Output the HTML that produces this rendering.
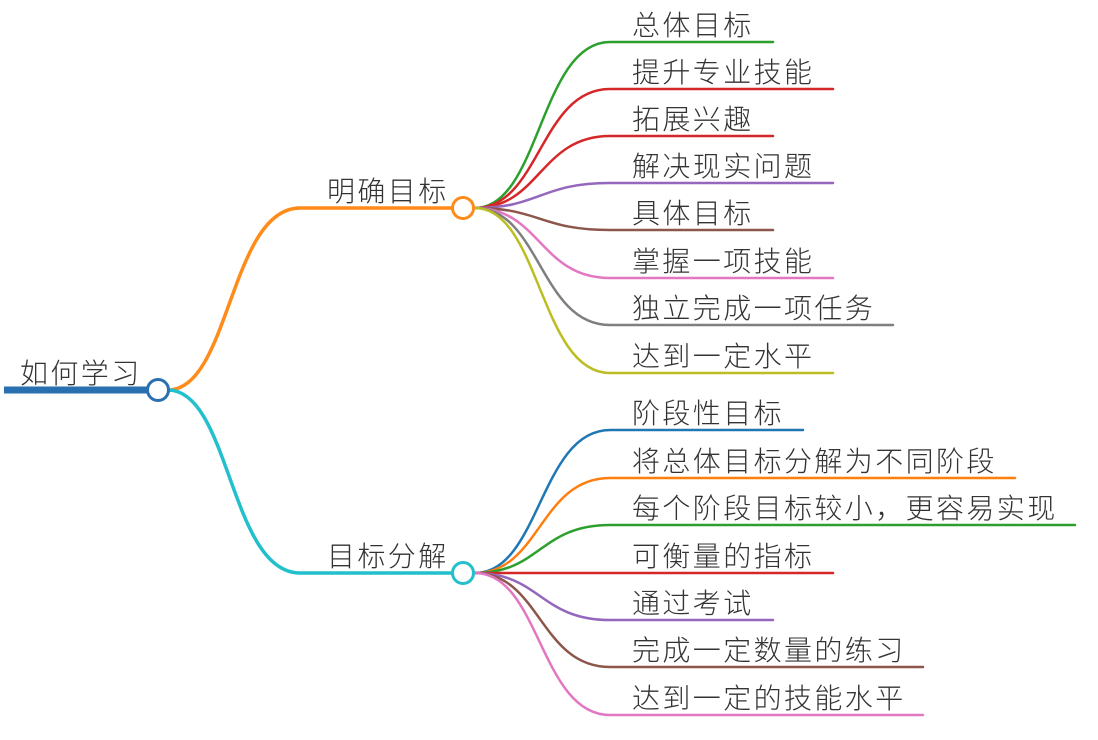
<!DOCTYPE html>
<html><head><meta charset="utf-8"><style>
html,body{margin:0;padding:0;background:#fff;}
svg text{font-family:"Liberation Sans","Noto Sans CJK SC",sans-serif;font-size:28px;font-weight:300;fill:#333;letter-spacing:2.4px;}
</style></head><body>
<svg width="1098" height="735" viewBox="0 0 1098 735" xmlns="http://www.w3.org/2000/svg">
<g fill="none" stroke-linecap="round">
<path d="M168 390 C230 390 230 208 300 208 L452 208" stroke="#ff8c1a" stroke-width="3.5"/>
<path d="M168 390 C230 390 230 573 300 573 L452 573" stroke="#22bfcc" stroke-width="3.5"/>
<line x1="4" y1="390" x2="148" y2="390" stroke="#2a6fb0" stroke-width="7" stroke-linecap="butt"/>
<g stroke-width="2.5">
<path d="M475 208 C540 208 540 42 610 42 L773 42" stroke="#2ca02c"/>
<path d="M475 208 C540 208 540 89 610 89 L833 89" stroke="#d62728"/>
<path d="M475 208 C540 208 540 136 610 136 L773 136" stroke="#d62728"/>
<path d="M475 208 C540 208 540 183 610 183 L833 183" stroke="#9467bd"/>
<path d="M475 208 C540 208 540 230 610 230 L773 230" stroke="#8c564b"/>
<path d="M475 208 C540 208 540 278 610 278 L833 278" stroke="#e377c2"/>
<path d="M475 208 C540 208 540 325 610 325 L893 325" stroke="#7f7f7f"/>
<path d="M475 208 C540 208 540 373 610 373 L833 373" stroke="#bcbd22"/>
<path d="M475 573 C540 573 540 430 610 430 L803 430" stroke="#1f77b4"/>
<path d="M475 573 C540 573 540 478 610 478 L1015 478" stroke="#ff7f0e"/>
<path d="M475 573 C540 573 540 525 610 525 L1075 525" stroke="#2ca02c"/>
<path d="M475 573 C540 573 540 573 610 573 L833 573" stroke="#d62728"/>
<path d="M475 573 C540 573 540 620 610 620 L773 620" stroke="#9467bd"/>
<path d="M475 573 C540 573 540 667 610 667 L923 667" stroke="#8c564b"/>
<path d="M475 573 C540 573 540 715 610 715 L923 715" stroke="#e377c2"/>
</g>
</g>
<circle cx="158" cy="390" r="10.5" fill="#fff" stroke="#2a6fb0" stroke-width="3"/>
<circle cx="463" cy="208" r="10.5" fill="#fff" stroke="#ff8c1a" stroke-width="3"/>
<circle cx="463" cy="573" r="10.5" fill="#fff" stroke="#22bfcc" stroke-width="3"/>
<text x="20" y="383">如何学习</text>
<text x="327" y="201">明确目标</text>
<text x="327" y="566">目标分解</text>
<text x="632" y="35">总体目标</text>
<text x="632" y="82">提升专业技能</text>
<text x="632" y="129">拓展兴趣</text>
<text x="632" y="176">解决现实问题</text>
<text x="632" y="223">具体目标</text>
<text x="632" y="271">掌握一项技能</text>
<text x="632" y="318">独立完成一项任务</text>
<text x="632" y="366">达到一定水平</text>
<text x="632" y="423">阶段性目标</text>
<text x="632" y="471">将总体目标分解为不同阶段</text>
<text x="632" y="518">每个阶段目标较小，更容易实现</text>
<text x="632" y="566">可衡量的指标</text>
<text x="632" y="613">通过考试</text>
<text x="632" y="660">完成一定数量的练习</text>
<text x="632" y="708">达到一定的技能水平</text>
</svg>
</body></html>
